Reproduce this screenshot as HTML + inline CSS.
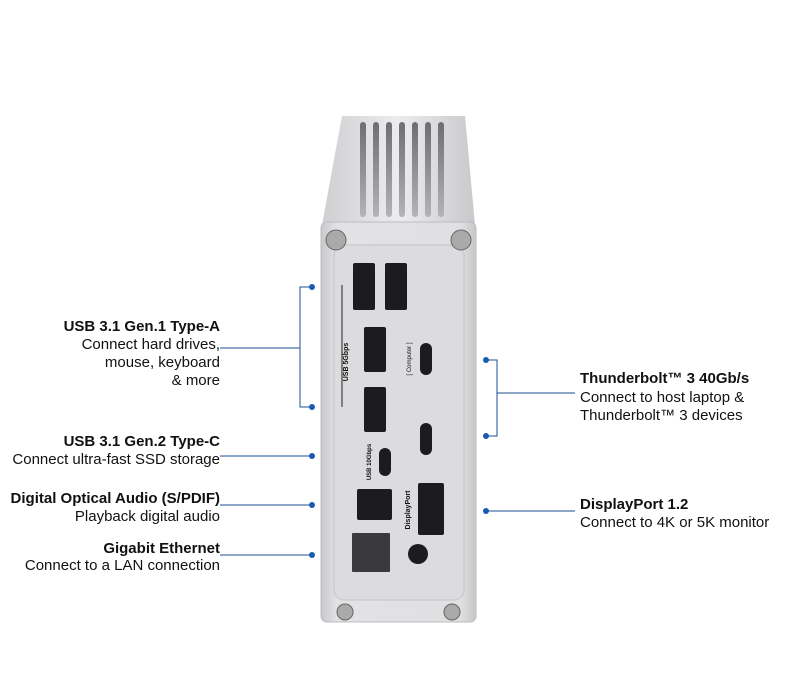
<!DOCTYPE html>
<html><head><meta charset="utf-8"><style>
html,body{margin:0;padding:0;background:#fff;}
svg{display:block}
text{font-family:"Liberation Sans",sans-serif;font-size:15px;fill:#111}
.b{font-weight:bold}
</style></head><body>
<svg width="800" height="693" viewBox="0 0 800 693">
<defs>
<linearGradient id="top" x1="0" x2="1"><stop offset="0" stop-color="#cfcfd2"/><stop offset=".5" stop-color="#ececee"/><stop offset="1" stop-color="#c9c9cc"/></linearGradient>
<linearGradient id="face" x1="0" x2="1"><stop offset="0" stop-color="#c8c8cb"/><stop offset=".1" stop-color="#e2e2e4"/><stop offset=".9" stop-color="#e0e0e2"/><stop offset="1" stop-color="#c6c6c9"/></linearGradient>
<linearGradient id="fin" x1="0" y1="0" x2="0" y2="1"><stop offset="0" stop-color="#6e6e72"/><stop offset="1" stop-color="#b4b4b8"/></linearGradient>
</defs>
<path d="M342 116 L465 116 L475 225 L322 225 Z" fill="url(#top)"/>
<g fill="url(#fin)">
<rect x="360" y="122" width="6" height="95" rx="3"/><rect x="373" y="122" width="6" height="95" rx="3"/><rect x="386" y="122" width="6" height="95" rx="3"/><rect x="399" y="122" width="6" height="95" rx="3"/><rect x="412" y="122" width="6" height="95" rx="3"/><rect x="425" y="122" width="6" height="95" rx="3"/><rect x="438" y="122" width="6" height="95" rx="3"/>
</g>
<rect x="321" y="222" width="155" height="400" rx="6" fill="url(#face)" stroke="#bdbdc0"/>
<rect x="334" y="245" width="130" height="355" rx="10" fill="#dcdcdf" stroke="#c4c4c7"/>
<circle cx="336" cy="240" r="10" fill="#aaa" stroke="#666"/><circle cx="461" cy="240" r="10" fill="#aaa" stroke="#666"/>
<circle cx="345" cy="612" r="8" fill="#aaa" stroke="#666"/><circle cx="452" cy="612" r="8" fill="#aaa" stroke="#666"/>
<g fill="#1c1c1e">
<rect x="353" y="263" width="22" height="47" rx="2"/><rect x="385" y="263" width="22" height="47" rx="2"/>
<rect x="364" y="327" width="22" height="45" rx="2"/><rect x="364" y="387" width="22" height="45" rx="2"/>
<rect x="420" y="343" width="12" height="32" rx="6"/><rect x="420" y="423" width="12" height="32" rx="6"/>
<rect x="379" y="448" width="12" height="28" rx="6"/>
<rect x="357" y="489" width="35" height="31" rx="2"/>
<rect x="418" y="483" width="26" height="52" rx="2"/>
<rect x="352" y="533" width="38" height="39" rx="1" fill="#3a3a3c"/>
<circle cx="418" cy="554" r="10"/>
</g>
<path d="M342 285 L342 407" stroke="#222" stroke-width="1"/>
<text transform="translate(348 362) rotate(-90)" style="font-size:7px;font-weight:bold" text-anchor="middle">USB 5Gbps</text>
<text transform="translate(411 359) rotate(-90)" style="font-size:6px" text-anchor="middle">[ Computer ]</text>
<text transform="translate(371 462) rotate(-90)" style="font-size:6px;font-weight:bold" text-anchor="middle">USB 10Gbps</text>
<text transform="translate(410 510) rotate(-90)" style="font-size:7px;font-weight:bold" text-anchor="middle">DisplayPort</text>
<g stroke="#1a4f8f" stroke-width="1" fill="none">
<path d="M312 287 H300 V407 H312 M220 348 H300"/>
<path d="M220 456 H312 M220 505 H312 M220 555 H312"/>
<path d="M486 360 H497 V436 H486 M497 393 H575"/>
<path d="M486 511 H575"/>
</g>
<g fill="#1a5ab0">
<circle cx="312" cy="287" r="3"/><circle cx="312" cy="407" r="3"/><circle cx="312" cy="456" r="3"/><circle cx="312" cy="505" r="3"/><circle cx="312" cy="555" r="3"/>
<circle cx="486" cy="360" r="3"/><circle cx="486" cy="436" r="3"/><circle cx="486" cy="511" r="3"/>
</g>
<g text-anchor="end">
<text x="220" y="331" class="b">USB 3.1 Gen.1 Type-A</text>
<text x="220" y="349">Connect hard drives,</text>
<text x="220" y="367">mouse, keyboard</text>
<text x="220" y="385">&amp; more</text>
<text x="220" y="446" class="b">USB 3.1 Gen.2 Type-C</text>
<text x="220" y="464">Connect ultra-fast SSD storage</text>
<text x="220" y="503" class="b">Digital Optical Audio (S/PDIF)</text>
<text x="220" y="521">Playback digital audio</text>
<text x="220" y="553" class="b">Gigabit Ethernet</text>
<text x="220" y="570">Connect to a LAN connection</text>
</g>
<text x="580" y="383" class="b">Thunderbolt™ 3 40Gb/s</text>
<text x="580" y="402">Connect to host laptop &amp;</text>
<text x="580" y="420">Thunderbolt™ 3 devices</text>
<text x="580" y="509" class="b">DisplayPort 1.2</text>
<text x="580" y="527">Connect to 4K or 5K monitor</text>
</svg>
</body></html>
